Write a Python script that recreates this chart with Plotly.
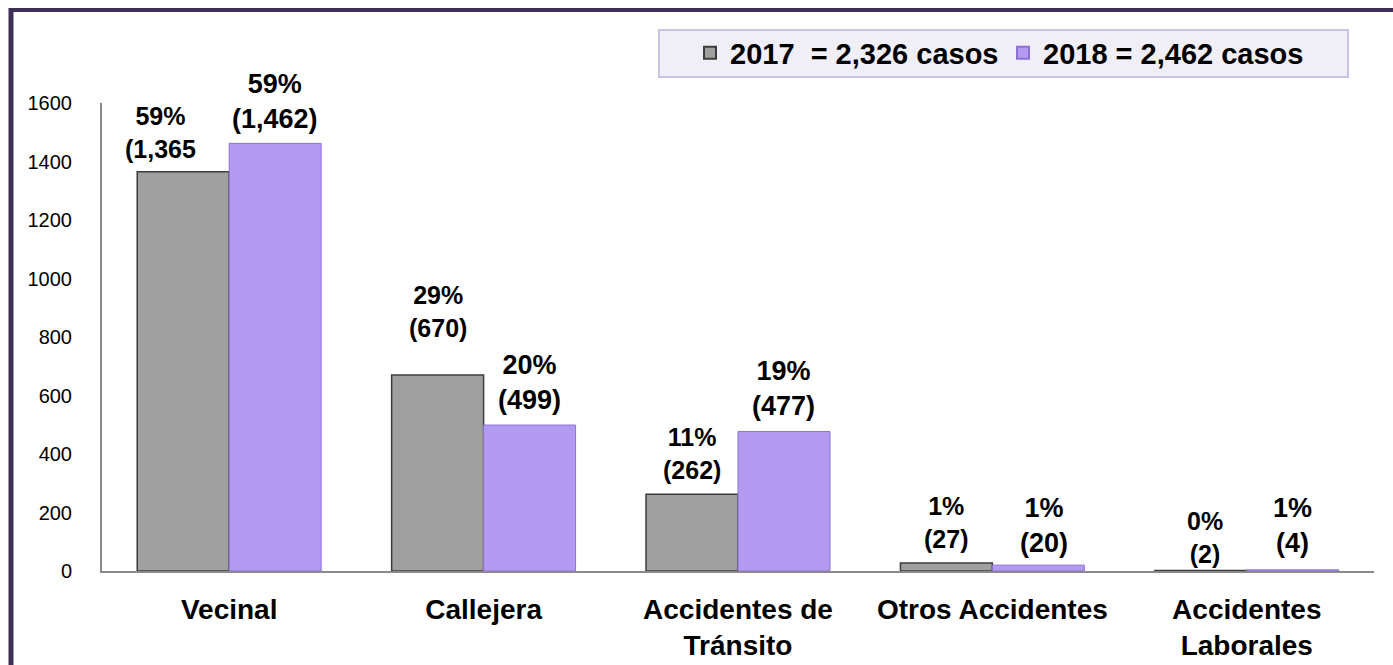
import plotly.graph_objects as go

# ---- datos ----
categorias = ["Vecinal", "Callejera", "Accidentes de<br>Tránsito", "Otros Accidentes", "Accidentes<br>Laborales"]
casos_2017 = [1365, 670, 262, 27, 2]
casos_2018 = [1462, 499, 477, 20, 4]
pct_2017 = ["59%", "29%", "11%", "1%", "0%"]
pct_2018 = ["59%", "20%", "19%", "1%", "1%"]
txt_2017 = ["(1,365", "(670)", "(262)", "(27)", "(2)"]
txt_2018 = ["(1,462)", "(499)", "(477)", "(20)", "(4)"]
nombres = ["2017\u00a0\u00a0= 2,326 casos", "2018 = 2,462 casos"]
y_ticks = [0, 200, 400, 600, 800, 1000, 1200, 1400, 1600]

# ---- ajustes de etiquetas (desplazamiento en px) ----
ajuste_2017 = [(-23, 7), (0, 31), (0, 8), (0, 8), (4, 0)]
ajuste_2018 = [(0, 7), (0, 8), (0, 8), (6, 5), (0, 10)]

FONT = "Liberation Sans, Arial, sans-serif"
W, H = 1393, 665
L, R, T, B = 102, 19, 103, 94
BARGAP = 0.277

def px(x):
    return (x - L) / (W - L - R)

def py(y):
    return (H - B - y) / (H - T - B)

fig = go.Figure()
fig.add_trace(go.Bar(
    x=categorias, y=casos_2017, name=nombres[0],
    marker=dict(color="#a0a0a0", line=dict(color="#3c3c3c", width=1.5)),
))
fig.add_trace(go.Bar(
    x=categorias, y=casos_2018, name=nombres[1],
    marker=dict(color="#b39bf1", line=dict(color="#8d72d6", width=1)),
))

# etiquetas de datos
w = (1 - BARGAP) / 2
anns = []
for serie, vals, pcts, txts, aj in [(0, casos_2017, pct_2017, txt_2017, ajuste_2017),
                                    (1, casos_2018, pct_2018, txt_2018, ajuste_2018)]:
    for i, v in enumerate(vals):
        xpos = i - w / 2 if serie == 0 else i + w / 2
        anns.append(dict(
            x=xpos, y=v, xref="x", yref="y",
            text=f"<b>{pcts[i]}<br>{txts[i]}</b>",
            showarrow=False, yanchor="bottom",
            xshift=aj[i][0], yshift=aj[i][1],
            font=dict(family=FONT, size=25 if serie == 0 else 27, color="black"),
        ))

# marco morado y caja de la leyenda
shapes = [
    dict(type="line", xref="paper", yref="paper", x0=px(9), x1=px(W), y0=py(10), y1=py(10),
         line=dict(color="#3e2f57", width=4)),
    dict(type="line", xref="paper", yref="paper", x0=px(11), x1=px(11), y0=py(8), y1=py(H),
         line=dict(color="#3e2f57", width=5)),
    dict(type="rect", xref="paper", yref="paper", x0=px(659), x1=px(1348), y0=py(77), y1=py(30),
         fillcolor="#f0eef6", line=dict(color="#cdc2e5", width=2), layer="below"),
]

fig.update_layout(
    width=W, height=H,
    margin=dict(l=L, r=R, t=T, b=B, autoexpand=False),
    paper_bgcolor="white", plot_bgcolor="white",
    barmode="group", bargap=BARGAP, bargroupgap=0,
    font=dict(family=FONT, color="black"),
    annotations=anns, shapes=shapes,
    legend=dict(
        orientation="h", x=px(690), xanchor="left", y=py(53), yanchor="middle",
        bgcolor="rgba(0,0,0,0)", borderwidth=0,
        font=dict(family=FONT, size=29, color="black", weight="bold"),
        itemsizing="constant", entrywidth=268, entrywidthmode="pixels",
    ),
    showlegend=True,
)
fig.update_xaxes(
    showline=True, linecolor="#8a8a8a", linewidth=2, ticks="", automargin=False,
    tickfont=dict(family=FONT, size=28, color="black", weight="bold"),
    ticklabelstandoff=12, showgrid=False,
)
fig.update_yaxes(
    range=[0, 1600], tickvals=y_ticks, showline=True, linecolor="#8a8a8a", linewidth=2,
    ticks="", showgrid=False, zeroline=False, automargin=False,
    tickfont=dict(family=FONT, size=20, color="black"),
    ticklabelstandoff=24,
)

# quitar el margen por defecto del <body>
fig.write_html("out.html", config={"displayModeBar": False},
               post_script="document.body.style.margin='0';")
